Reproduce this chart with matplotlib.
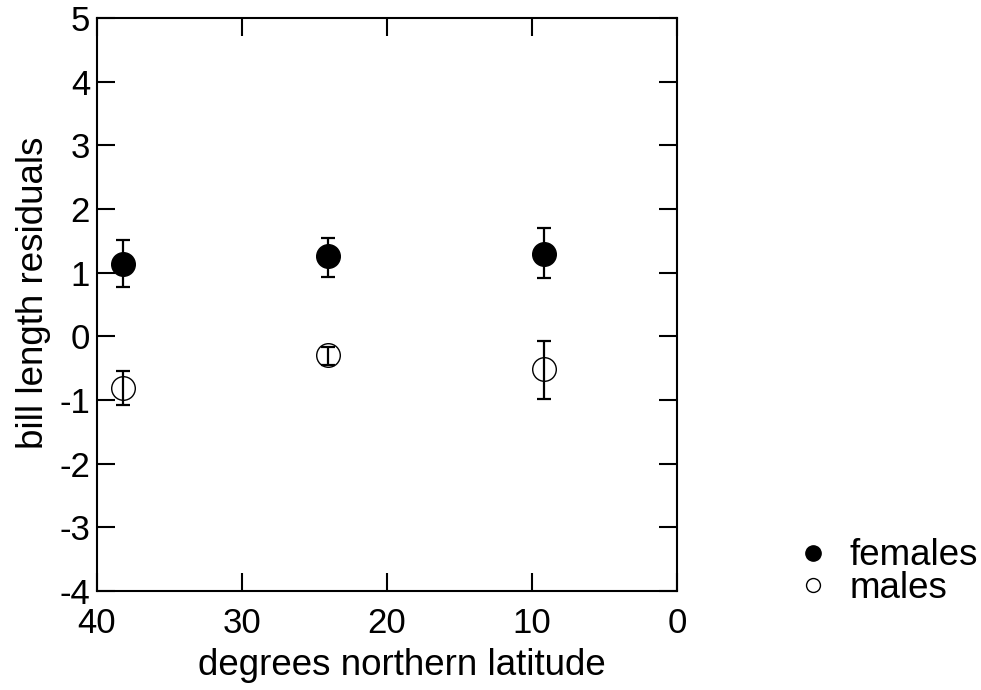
import matplotlib
matplotlib.use("Agg")
import matplotlib.pyplot as plt
from matplotlib.lines import Line2D

plt.rcParams['font.family'] = ['Liberation Sans', 'DejaVu Sans']

latitude = [38.2, 24.1, 9.2]
female_mean = [1.14, 1.26, 1.30]
female_low = [0.77, 0.93, 0.91]
female_high = [1.51, 1.55, 1.70]
male_mean = [-0.81, -0.30, -0.52]
male_low = [-1.08, -0.45, -0.98]
male_high = [-0.55, -0.17, -0.08]

xticks = [40, 30, 20, 10, 0]
yticks = [-4, -3, -2, -1, 0, 1, 2, 3, 4, 5]

fig = plt.figure(figsize=(9.81, 6.90), dpi=100)
ax = fig.add_axes([97/981, 1 - 591/690, 580/981, 573/690])

f_err = [[m - l for m, l in zip(female_mean, female_low)],
         [h - m for m, h in zip(female_mean, female_high)]]
m_err = [[m - l for m, l in zip(male_mean, male_low)],
         [h - m for m, h in zip(male_mean, male_high)]]

ax.errorbar(latitude, female_mean, yerr=f_err, fmt='o', color='black',
            markersize=17, ecolor='black', elinewidth=1.6, capsize=4.7,
            capthick=1.6, zorder=3)
ax.errorbar(latitude, male_mean, yerr=m_err, fmt='none', ecolor='black',
            elinewidth=1.6, capsize=4.7, capthick=1.6, zorder=3)
ax.plot(latitude, male_mean, 'o', markersize=17, markerfacecolor='none',
        markeredgecolor='black', markeredgewidth=1.0, zorder=4)

ax.set_xlim(40, 0)
ax.set_ylim(-4, 5)
ax.set_xticks(xticks)
ax.set_yticks(yticks)
ax.set_xticklabels([str(t) for t in xticks])
ax.set_yticklabels([str(t) for t in yticks])
ax.tick_params(direction='in', length=13, width=1.5, labelsize=25,
               top=True, right=True)
ax.tick_params(axis='x', pad=11.5)
ax.tick_params(axis='y', pad=5)
for s in ax.spines.values():
    s.set_linewidth(1.5)

ax.set_xlabel('degrees northern latitude', fontsize=26.5, labelpad=6)
ax.xaxis.label.set_x(0.525)
ax.set_ylabel('bill length residuals', fontsize=26.5, labelpad=6)
ax.yaxis.label.set_y(0.52)

handles = [
    Line2D([], [], marker='o', linestyle='none', color='black', markersize=11),
    Line2D([], [], marker='o', linestyle='none', markerfacecolor='none',
           markeredgecolor='black', markersize=10, markeredgewidth=1.0),
]
fig.legend(handles, ['females', 'males'], loc='center left',
           bbox_to_anchor=(761/981, 1 - 572/690), frameon=False, fontsize=26.5,
           handlelength=1.0, handletextpad=0.5, labelspacing=-0.08)

fig.savefig('out.png', dpi=100)
